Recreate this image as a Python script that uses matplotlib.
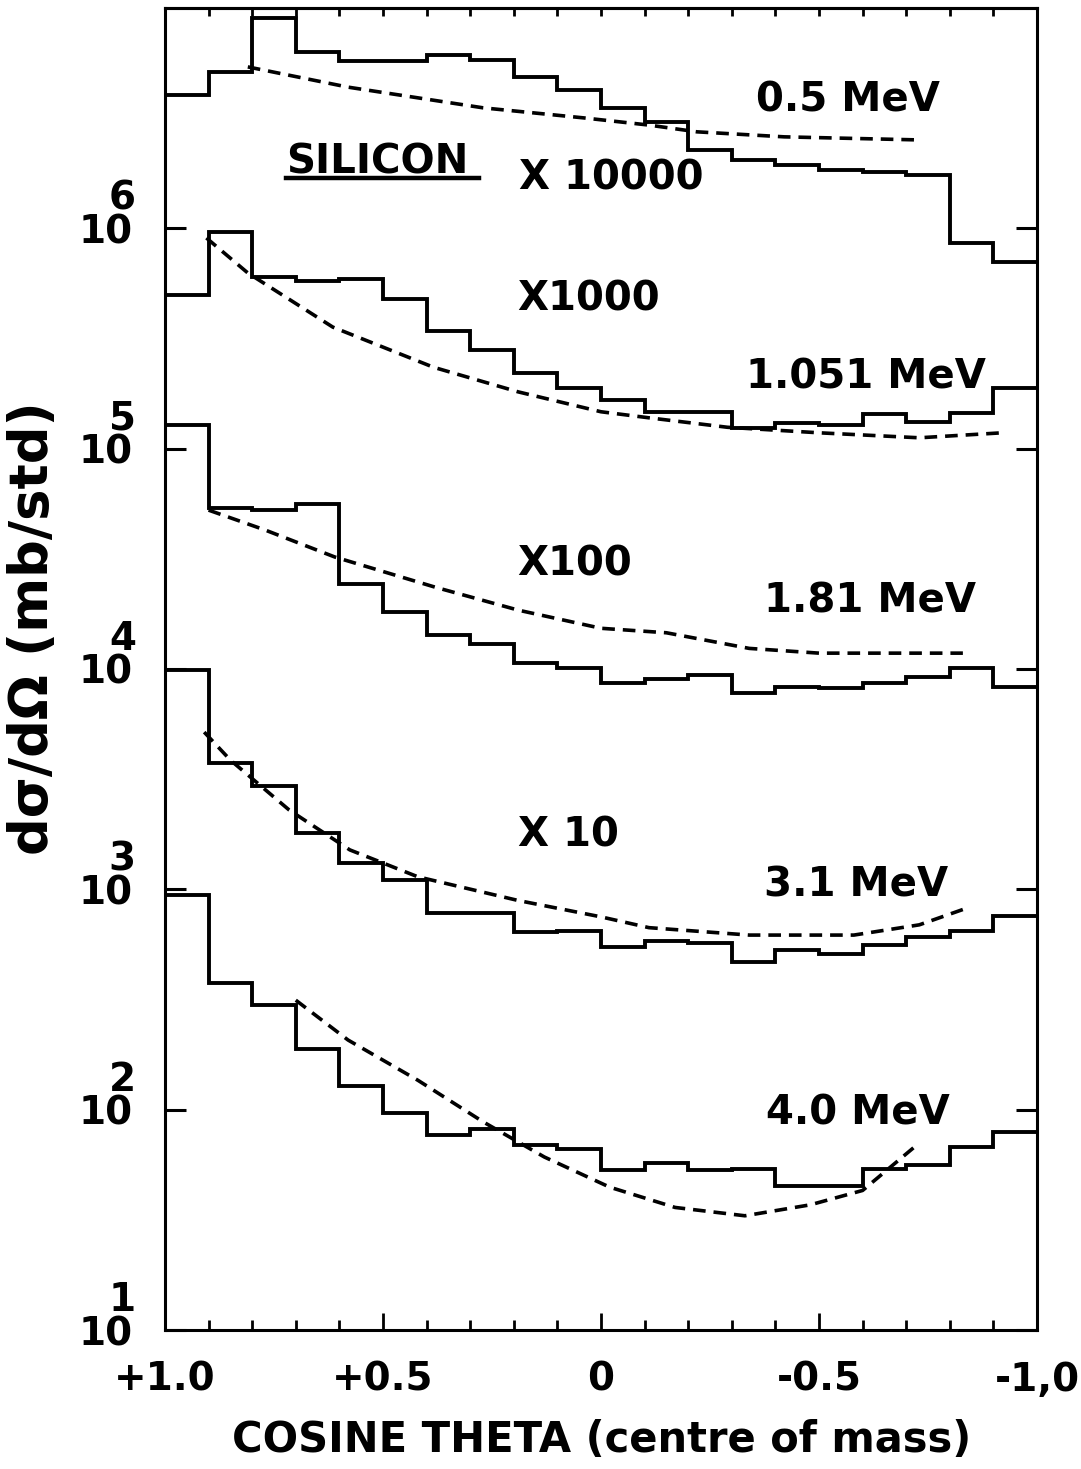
import numpy as np
import matplotlib
matplotlib.use("Agg")
import matplotlib.pyplot as plt
import matplotlib.transforms as mtrans
from matplotlib.lines import Line2D
from matplotlib.ticker import NullLocator, MultipleLocator

plt.rcParams['font.family'] = ['DejaVu Sans']
plt.rcParams['font.weight'] = 'bold'

# bin edges in cos(theta), from +1 down to -1
edges = np.round(np.linspace(1.0, -1.0, 21), 2)

# measured histograms (mb/std), one value per 0.1 bin, before the display factor
si_050 = [403, 512, 900, 631, 575, 575, 612, 581, 486, 425,
          352, 304, 227, 204, 194, 184, 180, 175, 86, 70]
si_1051 = [498, 962, 601, 576, 589, 477, 342, 280, 220, 188,
           166, 147, 147, 124, 131, 128, 144, 132, 145, 188]
si_181 = [1280, 537, 526, 560, 243, 181, 142, 130, 106, 101,
          86, 90, 94, 78, 83, 82, 86, 92, 101, 83]
si_310 = [988, 374, 294, 180, 131, 110, 78, 78, 64, 65,
          55, 58, 57, 47, 53, 51, 56, 61, 65, 76]
si_400 = [942, 375, 298, 188, 128, 97, 77, 82, 69, 66,
          53, 57, 53, 54, 45, 45, 54, 56, 68, 79]

# calculated curves (dashed)
fit_050_cos = [0.81, 0.58, 0.27, 0.04, -0.11, -0.22, -0.42, -0.72]
fit_050 = [540, 437, 352, 317, 294, 274, 260, 252]
fit_1051_cos = [0.905, 0.81, 0.615, 0.384, 0.19, 0.0, -0.11, -0.29, -0.50, -0.73, -0.92]
fit_1051 = [904, 627, 356, 234, 181, 147, 138, 125, 118, 112, 118]
fit_181_cos = [0.90, 0.77, 0.61, 0.38, 0.19, 0.0, -0.15, -0.34, -0.50, -0.83]
fit_181 = [526, 427, 322, 235, 185, 153, 146, 124, 118, 118]
fit_310_cos = [0.91, 0.85, 0.715, 0.576, 0.42, 0.19, 0.0, -0.11, -0.34, -0.58, -0.73, -0.83]
fit_310 = [517, 386, 229, 151, 114, 89, 75, 67, 62, 62, 69, 81]
fit_400_cos = [0.70, 0.58, 0.42, 0.27, 0.13, -0.02, -0.17, -0.33, -0.48, -0.60, -0.72]
fit_400 = [314, 207, 136, 88, 61, 44.5, 36, 33, 37, 43, 68]

hists = [si_050, si_1051, si_181, si_310, si_400]
fits = [(fit_050_cos, fit_050), (fit_1051_cos, fit_1051), (fit_181_cos, fit_181),
        (fit_310_cos, fit_310), (fit_400_cos, fit_400)]
factors = [10000, 1000, 100, 10, 1]

xtick_pos = [1.0, 0.5, 0.0, -0.5, -1.0]
xtick_lab = ['+1.0', '+0.5', '0', '-0.5', '-1,0']
decades = [1, 2, 3, 4, 5, 6]

fig = plt.figure(figsize=(10.81, 14.69), dpi=100)
ax = fig.add_axes([0.1526, 0.0946, 0.8067, 0.900])

for h, (fc, fv), k in zip(hists, fits, factors):
    ax.stairs(np.array(h) * k, edges, baseline=None, color='black', lw=2.8)
    ax.plot(fc, np.array(fv) * k, color='black', lw=2.6, ls=(0, (3.5, 2.2)))

ax.set_yscale('log')
ax.set_ylim(10, 1e7)
ax.set_xlim(1.0, -1.0)

for s in ax.spines.values():
    s.set_linewidth(2.2)

ax.set_yticks([10.0 ** d for d in decades], labels=['10'] * len(decades))
ax.yaxis.set_minor_locator(NullLocator())
ax.tick_params(axis='y', which='major', direction='in', length=15, width=2.2,
               left=True, right=True, pad=23, labelsize=28)
ax.set_xticks(xtick_pos, labels=xtick_lab)
ax.xaxis.set_minor_locator(MultipleLocator(0.1))
ax.tick_params(axis='x', which='major', direction='in', length=12, width=2, pad=22,
               labelsize=28, top=False)
ax.tick_params(axis='x', which='minor', direction='in', length=7, width=2, top=False)

top = ax.secondary_xaxis('top')
top.set_xticks(edges[1:-1])
top.tick_params(direction='in', length=6, width=2, labeltop=False)
top.spines['top'].set_linewidth(2.2)

# exponents of the decade labels, raised above "10"
exp_tr = ax.get_yaxis_transform() + mtrans.ScaledTranslation(-0.29, 0.30, fig.dpi_scale_trans)
for d in decades:
    ax.text(0, 10.0 ** d, str(d), transform=exp_tr, ha='right', va='center', fontsize=28)

# curve labels
lab_kw = dict(ha='left', va='center', fontsize=29)
ax.text(-0.356, 10 ** 6.582, '0.5 MeV', **lab_kw)
silicon = ax.text(0.722, 10 ** 6.30, 'SILICON', **lab_kw)
ax.text(0.187, 10 ** 6.228, 'X 10000', **lab_kw)
ax.text(0.191, 10 ** 5.675, 'X1000', **lab_kw)
ax.text(-0.333, 10 ** 5.325, '1.051 MeV', **lab_kw)
ax.text(0.191, 10 ** 4.472, 'X100', **lab_kw)
ax.text(-0.374, 10 ** 4.304, '1.81 MeV', **lab_kw)
ax.text(0.191, 10 ** 3.246, 'X 10', **lab_kw)
ax.text(-0.374, 10 ** 3.019, '3.1 MeV', **lab_kw)
ax.text(-0.379, 10 ** 1.984, '4.0 MeV', **lab_kw)

fig.text(33 / 1081, 1 - 628 / 1469, 'dσ/dΩ (mb/std)', rotation=90,
         ha='center', va='center', fontsize=38)
fig.text(602 / 1081, 1 - 1440 / 1469, 'COSINE THETA (centre of mass)',
         ha='center', va='center', fontsize=30)

# underline under SILICON, taken from the rendered text box
fig.canvas.draw()
bb = silicon.get_window_extent().transformed(fig.transFigure.inverted())
fig.add_artist(Line2D([bb.x0, bb.x1 + 0.01], [bb.y0 + 0.003, bb.y0 + 0.003],
                      transform=fig.transFigure, color='black', lw=3.2))

fig.savefig('out.png', dpi=100)
